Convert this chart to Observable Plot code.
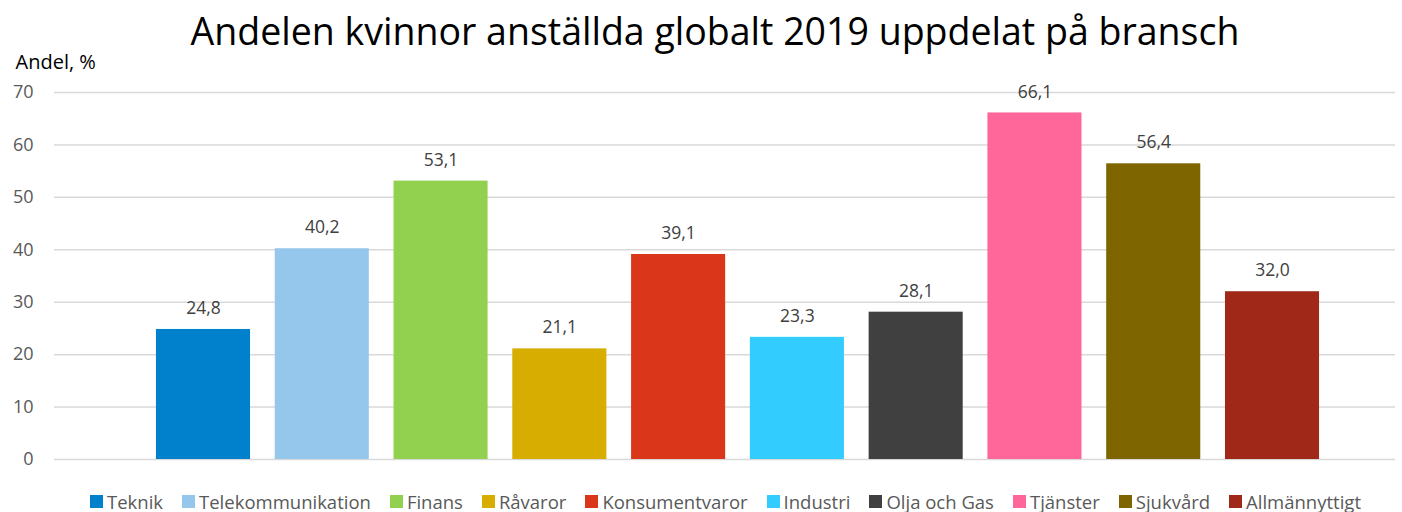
<!DOCTYPE html>
<html>
<head>
<meta charset="utf-8">
<script src="https://cdn.jsdelivr.net/npm/d3@7"></script>
<script src="https://cdn.jsdelivr.net/npm/@observablehq/plot@0.6"></script>
<style>
  body { margin: 0; background: #fff; font-family: "Open Sans", sans-serif; }
  #title { height: 40px; line-height: 62px; text-align: center; font-size: 37.5px; color: #000; white-space: nowrap; padding-left: 28px; overflow: visible; }
  #legend { display: flex; justify-content: center; gap: 0 19px; font-size: 18.5px; color: #595959; margin-top: 9px; padding-left: 49px; }
  .item { display: flex; align-items: center; white-space: nowrap; }
  .sw { width: 13px; height: 13px; margin-right: 4px; display: inline-block; }
</style>
</head>
<body>
<div id="title">Andelen kvinnor anställda globalt 2019 uppdelat på bransch</div>
<div id="chart"></div>
<div id="legend"></div>
<script>
const categories = ["Teknik", "Telekommunikation", "Finans", "Råvaror", "Konsumentvaror", "Industri", "Olja och Gas", "Tjänster", "Sjukvård", "Allmännyttigt"];
const values = [24.8, 40.2, 53.1, 21.1, 39.1, 23.3, 28.1, 66.1, 56.4, 32.0];
const colors = ["#0180CC", "#95C6EB", "#92D050", "#D6AD00", "#D9361A", "#33CCFF", "#404040", "#FF6699", "#7F6500", "#A02818"];
const yTicks = [0, 10, 20, 30, 40, 50, 60, 70];

const data = categories.map((c, i) => ({ category: c, value: values[i] }));
const fmt = v => v.toFixed(1).replace(".", ",");

const chart = Plot.plot({
  width: 1402,
  height: 440,
  marginTop: 52,
  marginBottom: 21,
  marginLeft: 54,
  marginRight: 7,
  style: { fontFamily: "'Open Sans', sans-serif", background: "transparent", overflow: "visible" },
  x: { domain: categories, range: [143.6, 1331.4], paddingInner: 0.208, paddingOuter: 0.104, round: false, axis: null },
  y: { domain: [0, 70], ticks: yTicks },
  color: { domain: categories, range: colors },
  marks: [
    Plot.ruleY(yTicks, { stroke: "#D9D9D9", strokeWidth: 1.5 }),
    Plot.axisY({ ticks: yTicks, tickSize: 0, tickPadding: 21, fontSize: 18, color: "#595959", label: null }),
    Plot.barY(data, { x: "category", y: "value", fill: "category" }),
    Plot.text(data, { x: "category", y: "value", text: d => fmt(d.value), dy: -21, fontSize: 17.5, fill: "#404040" }),
    Plot.text(["Andel, %"], { frameAnchor: "top-left", dx: -39, dy: -38, textAnchor: "start", fontSize: 20, fill: "#000" })
  ]
});
document.getElementById("chart").append(chart);

const legend = document.getElementById("legend");
categories.forEach((c, i) => {
  const it = document.createElement("div");
  it.className = "item";
  const sw = document.createElement("span");
  sw.className = "sw";
  sw.style.background = colors[i];
  it.append(sw, document.createTextNode(c));
  legend.append(it);
});
</script>
</body>
</html>
